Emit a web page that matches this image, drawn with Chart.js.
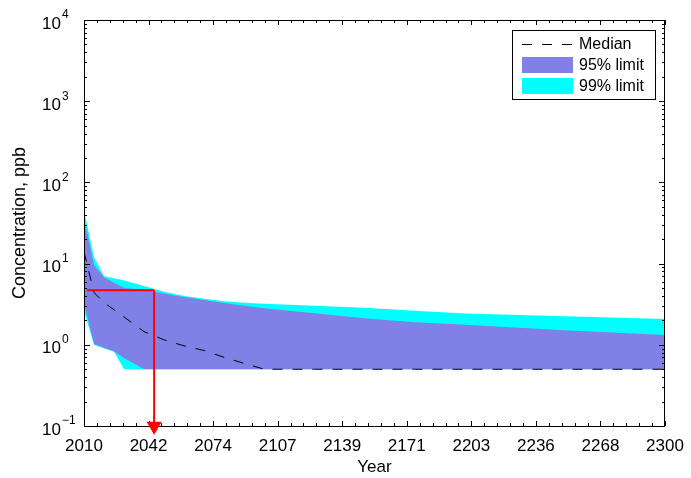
<!DOCTYPE html>
<html><head><meta charset="utf-8">
<style>html,body{margin:0;padding:0;background:#fff;}#wrap{width:691px;height:478px;}</style>
<script src="https://cdn.jsdelivr.net/npm/chart.js@4.4.0/dist/chart.umd.min.js"></script>
</head><body><div id="wrap"><canvas id="c" width="691" height="478"></canvas></div>
<script>
// ---- data ----
const years  = [2010,2015,2020,2025,2030,2040,2050,2060,2070,2080,2090,2100,2125,2150,2175,2200,2250,2300];
const median = [14,4.4,3.3,2.7,2.2,1.45,1.15,0.97,0.85,0.70,0.59,0.5,0.5,0.5,0.5,0.5,0.5,0.5];
const p95hi  = [36,9.6,6.8,5.8,5.0,4.75,4.25,3.87,3.56,3.28,3.02,2.81,2.45,2.12,1.9,1.76,1.51,1.32];
const p95lo  = [3.3,1.02,0.92,0.83,0.69,0.5,0.5,0.5,0.5,0.5,0.5,0.5,0.5,0.5,0.5,0.5,0.5,0.5];
const p99hi  = [45,12,7.0,6.6,6.2,5.3,4.5,4.0,3.7,3.45,3.3,3.2,3.02,2.86,2.63,2.43,2.24,2.08];
const p99lo  = [2.6,1.0,0.9,0.82,0.5,0.5,0.5,0.5,0.5,0.5,0.5,0.5,0.5,0.5,0.5,0.5,0.5,0.5];
const markerYear = 2045;
const markerLevel = 4.7;
const markerStartYear = 2011.5;
const xTickLabels = ['2010','2042','2074','2107','2139','2171','2203','2236','2268','2300'];
const yTickExponents = [-1,0,1,2,3,4];
const legendLabels = ['Median','95% limit','99% limit'];
const xMin = 2010, xMax = 2300, yMin = 0.1, yMax = 10000;

const pts = arr => years.map((y,i)=>({x:y,y:arr[i]}));
const FONT = '"Liberation Sans", Arial, Helvetica, sans-serif';
const PURPLE = '#8080E6', CYAN = '#00FFFF';
const xMajor = xTickLabels.map((_,i)=> xMin + i*(xMax-xMin)/(xTickLabels.length-1));

const axesPlugin = {
  id:'axesBox',
  afterDatasetDraw(chart,args){
    if(args.index!==2) return;
    const {ctx, chartArea:a, scales:{x,y}} = chart;
    ctx.save();
    ctx.strokeStyle='#000'; ctx.lineWidth=1;
    ctx.beginPath();
    ctx.rect(Math.round(a.left)+0.5, Math.round(a.top)+0.5, Math.round(a.right-a.left)-1, Math.round(a.bottom-a.top));
    ctx.stroke();
    ctx.beginPath();
    const nMinor = (xTickLabels.length-1)*5;
    for(let i=0;i<=nMinor;i++){
      const v = xMin + i*(xMax-xMin)/nMinor;
      const px = Math.round(x.getPixelForValue(v))+0.5;
      const len = (i%5===0)?5:3;
      ctx.moveTo(px,a.bottom); ctx.lineTo(px,a.bottom-len);
      ctx.moveTo(px,a.top); ctx.lineTo(px,a.top+len);
    }
    for(let e=yTickExponents[0]; e<yTickExponents[yTickExponents.length-1]+1; e++){
      for(let m=1;m<=9;m++){
        const v = m*Math.pow(10,e);
        if(v>yMax*1.0001) break;
        const py = Math.round(y.getPixelForValue(v))+0.5;
        const len = m===1?6:3;
        ctx.moveTo(a.left,py); ctx.lineTo(a.left+len,py);
        ctx.moveTo(a.right,py); ctx.lineTo(a.right-len,py);
      }
    }
    ctx.stroke();
    ctx.restore();
  },
  afterDraw(chart){
    const {ctx, chartArea:a, scales:{y}} = chart;
    ctx.save();
    ctx.fillStyle='#000';
    yTickExponents.forEach(e=>{
      const py = y.getPixelForValue(Math.pow(10,e));
      ctx.font = '17px '+FONT; ctx.textBaseline='middle'; ctx.textAlign='left';
      ctx.fillText('10', 42, py+4);
      const w = ctx.measureText('10').width;
      ctx.font = '12px '+FONT;
      ctx.fillText(e<0 ? '\u2212'+(-e) : String(e), 42+w+1, py-5);
    });
    // legend
    const L = a.right-153, T = a.top+10, W = 143, H = 69;
    ctx.fillStyle='#fff'; ctx.fillRect(L,T,W,H);
    ctx.strokeStyle='#000'; ctx.lineWidth=1;
    ctx.strokeRect(Math.round(L)+0.5, Math.round(T)+0.5, W, H);
    const sx = L+10, sw = 51, rows=[T+14, T+35, T+56];
    ctx.beginPath(); ctx.setLineDash([10,10]); ctx.lineDashOffset=0;
    ctx.moveTo(sx, rows[0]+0.5); ctx.lineTo(sx+sw, rows[0]+0.5); ctx.stroke();
    ctx.setLineDash([]);
    ctx.fillStyle=PURPLE; ctx.fillRect(sx, rows[1]-8, sw, 16);
    ctx.fillStyle=CYAN; ctx.fillRect(sx, rows[2]-8, sw, 16);
    ctx.fillStyle='#000'; ctx.font='16px '+FONT; ctx.textBaseline='middle'; ctx.textAlign='left';
    legendLabels.forEach((t,i)=> ctx.fillText(t, sx+sw+6, rows[i]+1));
    ctx.restore();
  }
};

new Chart(document.getElementById('c'), {
  type:'line',
  data:{ datasets:[
    {data:[{x:markerStartYear,y:markerLevel},{x:markerYear,y:markerLevel}], borderColor:'#FF0000', borderWidth:2, pointRadius:0, fill:false},
    {data:[{x:markerYear,y:markerLevel},{x:markerYear,y:yMin}], borderColor:'#FF0000', borderWidth:2,
      pointRadius:[0,8.7], pointStyle:'triangle', rotation:180, pointBackgroundColor:'#FF0000', pointBorderColor:'#FF0000', pointBorderWidth:0, clip:false, fill:false},
    {data:pts(median), borderColor:'#000', borderWidth:1, borderDash:[10,10], pointRadius:0, fill:false},
    {data:pts(p95hi), borderWidth:0, borderColor:'rgba(0,0,0,0)', backgroundColor:PURPLE, pointRadius:0, fill:'+1'},
    {data:pts(p95lo), borderWidth:0, borderColor:'rgba(0,0,0,0)', pointRadius:0, fill:false},
    {data:pts(p99hi), borderWidth:0, borderColor:'rgba(0,0,0,0)', backgroundColor:CYAN, pointRadius:0, fill:'+1'},
    {data:pts(p99lo), borderWidth:0, borderColor:'rgba(0,0,0,0)', pointRadius:0, fill:false}
  ]},
  options:{
    responsive:false, animation:false, devicePixelRatio:1,
    layout:{padding:{left:0,top:20,right:26,bottom:0}},
    elements:{line:{tension:0}},
    plugins:{legend:{display:false}, tooltip:{enabled:false}},
    scales:{
      x:{type:'linear', min:xMin, max:xMax,
        grid:{display:false}, border:{display:false},
        afterBuildTicks(s){ s.ticks = xMajor.map(v=>({value:v})); },
        afterFit(s){ s.height = 52; },
        ticks:{autoSkip:false, maxRotation:0, padding:2, color:'#000', font:{family:FONT,size:17},
          callback:(v,i)=> xTickLabels[i]},
        title:{display:true, text:'Year', color:'#000', font:{family:FONT,size:17}, padding:{top:0,bottom:0}}
      },
      y:{type:'logarithmic', min:yMin, max:yMax,
        grid:{display:false}, border:{display:false},
        ticks:{display:false},
        afterFit(s){ s.width = 84; },
        title:{display:true, text:'Concentration, ppb', color:'#000', font:{family:FONT,size:18}, padding:{top:9,bottom:0}}
      }
    }
  },
  plugins:[axesPlugin]
});
</script></body></html>
